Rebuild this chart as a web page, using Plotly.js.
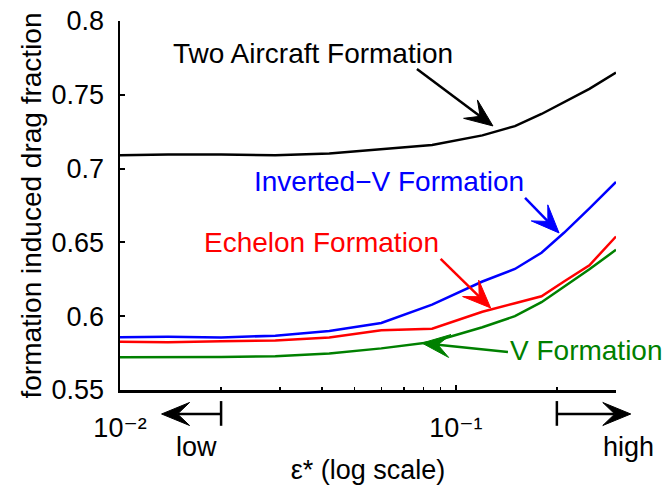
<!DOCTYPE html>
<html>
<head>
<meta charset="utf-8">
<script src="https://cdn.plot.ly/plotly-3.0.1.min.js"></script>
<style>html,body{margin:0;padding:0;background:#fff;}#chart{width:665px;height:485px;}</style>
</head>
<body>
<div id="chart"></div>
<script>
// ---- data ----
const epsilon      = [0.01, 0.0139, 0.02, 0.029, 0.042, 0.06, 0.085, 0.12, 0.15, 0.18, 0.21, 0.25, 0.3];
const twoAircraft  = [0.709, 0.7095, 0.7095, 0.709, 0.7102, 0.713, 0.716, 0.7225, 0.7288, 0.737, 0.745, 0.754, 0.765];
const invertedV    = [0.5857, 0.586, 0.5856, 0.5868, 0.590, 0.5954, 0.6078, 0.6235, 0.632, 0.643, 0.6565, 0.673, 0.691];
const echelon      = [0.5827, 0.5823, 0.583, 0.5836, 0.5855, 0.5905, 0.5915, 0.603, 0.6088, 0.6135, 0.6235, 0.6345, 0.654];
const vFormation   = [0.5722, 0.5722, 0.5724, 0.5728, 0.5748, 0.5782, 0.5825, 0.5925, 0.600, 0.6095, 0.620, 0.6318, 0.645];

const xTickVals  = [0.01, 0.1];
const xTickText  = ['10\u207b\u00b2', '10\u207b\u00b9'];
const xMinorVals = [0.02, 0.03, 0.04, 0.05, 0.06, 0.07, 0.08, 0.09, 0.2];
const yTickVals  = [0.55, 0.6, 0.65, 0.7, 0.75, 0.8];
const yTickText  = ['0.55', '0.6', '0.65', '0.7', '0.75', '0.8'];

const seriesNames  = ['Two Aircraft Formation', 'Inverted\u2212V Formation', 'Echelon Formation', 'V Formation'];
const seriesColors = ['#000000', '#0000ff', '#ff0000', '#008000'];
const seriesValues = [twoAircraft, invertedV, echelon, vFormation];
// arrow tips (epsilon, value) pointing at each curve
const arrowTipEps  = [0.129, 0.203, 0.127, 0.0793];
const arrowTipVal  = [0.7289, 0.6564, 0.6056, 0.5818];
const lowHighEdge  = [0.02, 0.2];     // where the low / high brackets sit
const lowHighTip   = [0.0133, 0.332]; // where the low / high arrows point

// ---- layout constants ----
const W = 665, H = 485;
const M = {l: 120, r: 49, t: 21, b: 95};
const plotW = W - M.l - M.r;
const xRange = [-2, Math.log10(0.3)];
const FONT = 'Liberation Sans, Arial, Helvetica, DejaVu Sans, sans-serif';
const toPaperX = v => (Math.log10(v) - xRange[0]) / (xRange[1] - xRange[0]);

const traces = seriesValues.map((vals, i) => ({
  x: epsilon, y: vals, type: 'scatter', mode: 'lines',
  line: {color: seriesColors[i], width: 2.5}, name: seriesNames[i], hoverinfo: 'skip'
}));

// label positions (paper units) and arrow tail offsets (screen pixels from the tip)
const labelPos = [[0.389, 0.912], [0.542, 0.564], [0.406, 0.401], [0.9415, 0.108]];
const tailOff  = [[-76, -57], [-34, -35], [-50, -49], [86, 9]];

const annotations = seriesNames.map((name, i) => ({
  xref: 'paper', yref: 'paper', x: labelPos[i][0], y: labelPos[i][1],
  text: name, showarrow: false, xanchor: 'center', yanchor: 'middle',
  font: {family: FONT, size: 28, color: seriesColors[i]}
}));
annotations.push({xref: 'paper', yref: 'paper', x: 0.155, y: -0.154, text: 'low', showarrow: false,
  xanchor: 'center', yanchor: 'middle', font: {family: FONT, size: 27, color: '#000'}});
annotations.push({xref: 'paper', yref: 'paper', x: 1.026, y: -0.154, text: 'high', showarrow: false,
  xanchor: 'center', yanchor: 'middle', font: {family: FONT, size: 27, color: '#000'}});

// arrow = shaft + barbed head, drawn as pixel-sized shapes anchored at the tip
function arrowShapes(xref, yref, ax, ay, dx, dy, color) {
  const len = Math.hypot(dx, dy), ux = dx / len, uy = dy / len, nx = -uy, ny = ux;
  const L = 28, HW = 11.5, LN = 16;
  const p = (x, y) => x.toFixed(2) + ',' + (-y).toFixed(2);
  const base = {type: 'path', xref: xref, yref: yref, xsizemode: 'pixel', ysizemode: 'pixel',
                xanchor: ax, yanchor: ay, layer: 'above'};
  const shaft = Object.assign({}, base, {
    path: 'M' + p(dx, dy) + 'L' + p(ux * LN, uy * LN),
    line: {color: color, width: 2.5}
  });
  const head = Object.assign({}, base, {
    path: 'M0,0L' + p(ux * L + nx * HW, uy * L + ny * HW) + 'L' + p(ux * LN, uy * LN) +
          'L' + p(ux * L - nx * HW, uy * L - ny * HW) + 'Z',
    fillcolor: color, line: {color: color, width: 1}
  });
  return [shaft, head];
}

let shapes = [];
seriesNames.forEach((_, i) => {
  shapes = shapes.concat(arrowShapes('paper', 'y', toPaperX(arrowTipEps[i]), arrowTipVal[i],
                                     tailOff[i][0], tailOff[i][1], seriesColors[i]));
});
const bracketY = -0.065;
lowHighEdge.forEach((edge, i) => {
  const tipP = toPaperX(lowHighTip[i]), edgeP = toPaperX(edge);
  shapes = shapes.concat(arrowShapes('paper', 'paper', tipP, bracketY, (edgeP - tipP) * plotW, 0, '#000'));
  shapes.push({type: 'line', xref: 'paper', yref: 'paper', x0: edgeP, x1: edgeP,
               y0: -0.03, y1: -0.097, line: {color: '#000', width: 2.5}});
});

const layout = {
  width: W, height: H, margin: M, showlegend: false,
  paper_bgcolor: '#fff', plot_bgcolor: '#fff',
  font: {family: FONT, size: 27, color: '#000'},
  xaxis: {
    type: 'log', range: xRange, tickmode: 'array', tickvals: xTickVals, ticktext: xTickText,
    ticks: 'inside', ticklen: 5, tickwidth: 2, tickcolor: '#000',
    minor: {tickmode: 'array', tickvals: xMinorVals, ticks: 'inside', ticklen: 3, tickwidth: 1.5, tickcolor: '#000'},
    showline: true, linewidth: 2.5, linecolor: '#000', showgrid: false, zeroline: false, mirror: false,
    tickfont: {family: FONT, size: 27, color: '#000'}, ticklabelstandoff: 12,
    title: {text: '\u03b5* (log scale)', font: {family: FONT, size: 27, color: '#000'}, standoff: 30},
    automargin: false
  },
  yaxis: {
    range: [0.55, 0.8], tickmode: 'array', tickvals: yTickVals, ticktext: yTickText,
    ticks: 'inside', ticklen: 5, tickwidth: 2, tickcolor: '#000',
    showline: true, linewidth: 2.5, linecolor: '#000', showgrid: false, zeroline: false, mirror: false,
    tickfont: {family: FONT, size: 27, color: '#000'}, ticklabelstandoff: 8,
    title: {text: 'formation induced drag fraction', font: {family: FONT, size: 28, color: '#000'}, standoff: 2},
    automargin: false
  },
  annotations: annotations,
  shapes: shapes
};

Plotly.newPlot('chart', traces, layout, {staticPlot: true, displayModeBar: false});
</script>
</body>
</html>
